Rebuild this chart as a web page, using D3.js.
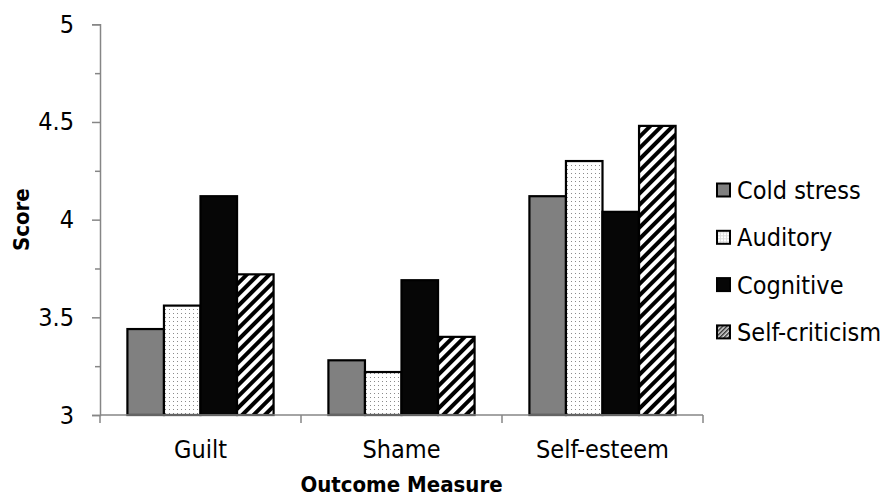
<!DOCTYPE html>
<html><head><meta charset="utf-8">
<script src="https://cdn.jsdelivr.net/npm/d3@7/dist/d3.min.js"></script>
<style>
body{margin:0;background:#fff;}
svg{display:block;font-family:"DejaVu Sans Condensed","DejaVu Sans",sans-serif;font-stretch:condensed;}
</style></head>
<body><svg id="c" width="896" height="498"></svg>
<script>
const categories = ["Guilt", "Shame", "Self-esteem"];
const seriesNames = ["Cold stress", "Auditory", "Cognitive", "Self-criticism"];
const coldStress = [3.44, 3.28, 4.12];
const auditory = [3.56, 3.22, 4.30];
const cognitive = [4.12, 3.69, 4.04];
const selfCriticism = [3.72, 3.40, 4.48];
const yTicks = [3, 3.5, 4, 4.5, 5];
const yMinorTicks = [3.25, 3.75, 4.25, 4.75];
const seriesValues = [coldStress, auditory, cognitive, selfCriticism];

const svg = d3.select("#c");
const defs = svg.append("defs");

const dots = defs.append("pattern").attr("id","dots").attr("patternUnits","userSpaceOnUse")
  .attr("width",4).attr("height",4);
dots.append("rect").attr("width",4).attr("height",4).attr("fill","#fff");
dots.append("rect").attr("x",1).attr("y",1).attr("width",1).attr("height",1).attr("fill","#8a8a8a");

const hatch = defs.append("pattern").attr("id","hatch").attr("patternUnits","userSpaceOnUse")
  .attr("width",8).attr("height",8).attr("patternTransform","rotate(45)");
hatch.append("rect").attr("width",8).attr("height",8).attr("fill","#fff");
hatch.append("rect").attr("x",0).attr("y",0).attr("width",4).attr("height",8).attr("fill","#000");

const hatchSmall = defs.append("pattern").attr("id","hatchSmall").attr("patternUnits","userSpaceOnUse")
  .attr("width",3).attr("height",3).attr("patternTransform","rotate(45)");
hatchSmall.append("rect").attr("width",3).attr("height",3).attr("fill","#ddd");
hatchSmall.append("rect").attr("width",1.5).attr("height",3).attr("fill","#333");

const gridSmall = defs.append("pattern").attr("id","gridSmall").attr("patternUnits","userSpaceOnUse")
  .attr("width",3).attr("height",3);
gridSmall.append("rect").attr("width",3).attr("height",3).attr("fill","#fff");
gridSmall.append("rect").attr("x",1).attr("y",0).attr("width",1).attr("height",3).attr("fill","#ddd");
gridSmall.append("rect").attr("x",0).attr("y",1).attr("width",3).attr("height",1).attr("fill","#ddd");

const fills = ["#808080", "url(#dots)", "#060606", "url(#hatch)"];
const legendFills = ["#808080", "url(#gridSmall)", "#060606", "url(#hatchSmall)"];

const plotLeft = 100, plotRight = 703, plotTop = 24.3, plotBottom = 415;
const x0 = d3.scaleBand().domain(categories).range([plotLeft, plotRight]).paddingInner(0).paddingOuter(0);
const x1 = d3.scaleBand().domain(seriesNames).range([0, x0.bandwidth()]).paddingInner(0).paddingOuter(0.75);
const y = d3.scaleLinear().domain([3, 5]).range([plotBottom, plotTop]);

const axisColor = "#868686";
const fontSize = 25;
const titleSize = 22;

const groups = svg.append("g").selectAll("g").data(categories).join("g")
  .attr("transform", d => `translate(${x0(d)},0)`);
groups.selectAll("rect").data((d,i) => seriesNames.map((s,j) => ({s, j, v: seriesValues[j][i]})))
  .join("rect")
  .attr("x", d => x1(d.s))
  .attr("y", d => y(d.v))
  .attr("width", x1.bandwidth())
  .attr("height", d => y(3) - y(d.v))
  .attr("fill", d => fills[d.j])
  .attr("stroke", "#000").attr("stroke-width", 2.2);

svg.append("g").attr("transform", `translate(${plotLeft},0)`)
  .call(d3.axisLeft(y).tickValues(yTicks).tickSize(8).tickPadding(18).tickFormat(d3.format("")));
svg.append("g").attr("transform", `translate(${plotLeft},0)`)
  .call(d3.axisLeft(y).tickValues(yMinorTicks).tickSize(5).tickFormat(""))
  .call(g => g.select(".domain").remove());

const xAxis = svg.append("g").attr("transform", `translate(0,${plotBottom})`)
  .call(d3.axisBottom(x0).tickSize(0).tickPadding(25));
svg.append("g").attr("transform", `translate(0,${plotBottom})`)
  .selectAll("line").data(d3.range(categories.length + 1)).join("line")
  .attr("x1", i => plotLeft + i * x0.step()).attr("x2", i => plotLeft + i * x0.step())
  .attr("y1", 0).attr("y2", 8).attr("stroke", axisColor).attr("stroke-width", 1.5);

svg.selectAll(".domain, .tick line").attr("stroke", axisColor).attr("stroke-width", 1.5);
svg.selectAll(".tick text").attr("font-size", fontSize).attr("fill", "#000")
  .attr("font-family", "DejaVu Sans Condensed, DejaVu Sans, sans-serif");
xAxis.select(".domain").attr("d", `M${plotLeft},0H${plotRight}`);

svg.append("text").attr("transform", `translate(29,${(plotTop+plotBottom)/2}) rotate(-90)`)
  .attr("text-anchor","middle").attr("font-size", titleSize).attr("font-weight","bold").text("Score");
svg.append("text").attr("x", (plotLeft+plotRight)/2).attr("y", 492)
  .attr("text-anchor","middle").attr("font-size", titleSize).attr("font-weight","bold").text("Outcome Measure");

const leg = svg.append("g").selectAll("g").data(seriesNames).join("g")
  .attr("transform", (d,i) => `translate(716,${190 + i*47.3})`);
leg.append("rect").attr("x",1).attr("y",-6.5).attr("width",13).attr("height",13)
  .attr("fill",(d,i)=>legendFills[i]).attr("stroke","#000").attr("stroke-width",2);
leg.append("text").attr("x",21).attr("y",0).attr("dy","0.36em")
  .attr("font-size", fontSize).text(d => d);
</script></body></html>
